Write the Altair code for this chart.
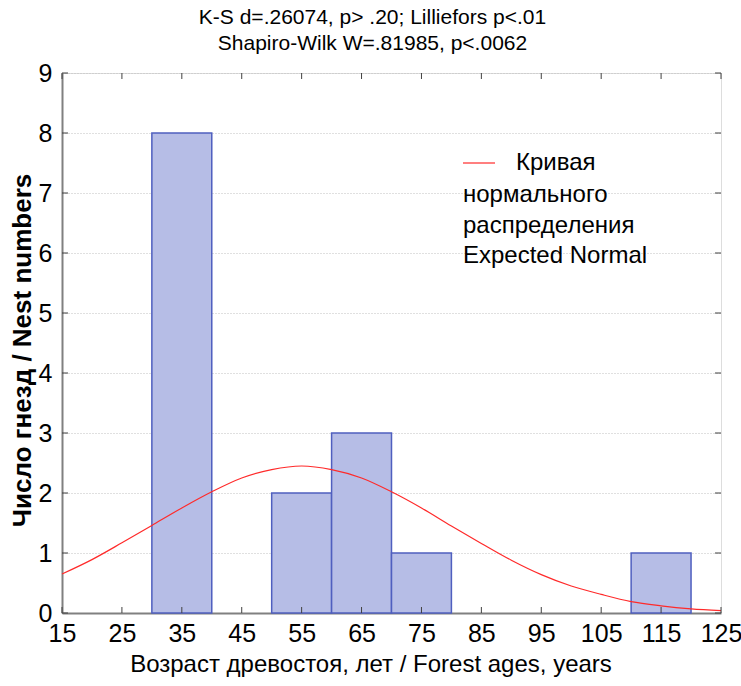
import altair as alt
import pandas as pd

# Histogram bins (age classes) and nest counts
bin_start = [30, 50, 60, 70, 110]
bin_end = [40, 60, 70, 80, 120]
nest_counts = [8, 2, 3, 1, 1]

# Expected normal curve, sampled every 5 years
curve_age = [15, 20, 25, 30, 35, 40, 45, 50, 55, 60, 65, 70, 75, 80,
             85, 90, 95, 100, 105, 110, 115, 120, 125]
curve_val = [0.65, 0.89, 1.17, 1.46, 1.75, 2.02, 2.25, 2.39, 2.45, 2.39,
             2.25, 2.02, 1.75, 1.45, 1.16, 0.88, 0.64, 0.45, 0.31, 0.19,
             0.12, 0.07, 0.04]

x_ticks = [15, 25, 35, 45, 55, 65, 75, 85, 95, 105, 115, 125]
y_ticks = [0, 1, 2, 3, 4, 5, 6, 7, 8, 9]

title_lines = ["K-S d=.26074, p> .20; Lilliefors p<.01",
               "Shapiro-Wilk W=.81985, p<.0062"]
x_title = "Возраст древостоя, лет / Forest ages, years"
y_title = "Число гнезд / Nest numbers"
legend_first = "Кривая"
legend_rest = ["нормального", "распределения", "Expected Normal"]

W, H = 659, 540
FONT = "Liberation Sans"

bars_df = pd.DataFrame({"start": bin_start, "end": bin_end, "n": nest_counts})
curve_df = pd.DataFrame({"age": curve_age, "val": curve_val})
xt_df = pd.DataFrame({"t": x_ticks})
yt_df = pd.DataFrame({"t": y_ticks})

x_scale = alt.Scale(domain=[15, 125], nice=False, zero=False)
y_scale = alt.Scale(domain=[0, 9], nice=False)

x_axis = alt.Axis(values=x_ticks, ticks=False, grid=False, labelOverlap=False,
                  labelFlush=False, domainColor="#808080", domainWidth=2,
                  labelFontSize=25, labelPadding=8, labelColor="#000",
                  titleFontSize=24, titleFontWeight="normal", titlePadding=6,
                  titleX=W / 2 - 21, titleColor="#000",
                  labelFont=FONT, titleFont=FONT)
y_axis = alt.Axis(values=y_ticks, format="d", ticks=False, grid=True,
                  labelOverlap=False, labelFlush=False,
                  gridColor="#c0c0c0", gridDash=[1, 2], gridWidth=1,
                  domainColor="#808080", domainWidth=2,
                  labelFontSize=25, labelPadding=10, labelColor="#000",
                  titleFontSize=26, titleFontWeight="bold", titlePadding=3,
                  titleY=H / 2 + 7, titleColor="#000",
                  labelFont=FONT, titleFont=FONT)

bars = alt.Chart(bars_df).mark_rect(
    fill="#b6bde6", stroke="#4f5fbf", strokeWidth=1.5
).encode(
    x=alt.X("start:Q", scale=x_scale, axis=x_axis, title=x_title),
    x2="end:Q",
    y=alt.Y("n:Q", scale=y_scale, axis=y_axis, title=y_title),
    y2=alt.datum(0),
)

curve = alt.Chart(curve_df).mark_line(
    color="#ff2a2a", strokeWidth=1.2, interpolate="monotone"
).encode(
    x=alt.X("age:Q", scale=x_scale),
    y=alt.Y("val:Q", scale=y_scale),
)

tick_style = dict(color="#404040", strokeWidth=1)
x_ticks_bottom = alt.Chart(xt_df).mark_rule(**tick_style).encode(
    x=alt.X("t:Q", scale=x_scale), y=alt.value(H), y2=alt.value(H - 6))
x_ticks_top = alt.Chart(xt_df).mark_rule(**tick_style).encode(
    x=alt.X("t:Q", scale=x_scale), y=alt.value(0), y2=alt.value(6))
y_ticks_left = alt.Chart(yt_df).mark_rule(**tick_style).encode(
    y=alt.Y("t:Q", scale=y_scale), x=alt.value(0), x2=alt.value(6))
y_ticks_right = alt.Chart(yt_df).mark_rule(**tick_style).encode(
    y=alt.Y("t:Q", scale=y_scale), x=alt.value(W), x2=alt.value(W - 6))

# Legend: red swatch with label, followed by continuation lines
legend_swatch = alt.Chart(pd.DataFrame({"k": [0]})).mark_rule(
    color="#ff2a2a", strokeWidth=1.2
).encode(x=alt.value(401), x2=alt.value(433), y=alt.value(90))
legend_head = alt.Chart(pd.DataFrame({"s": [legend_first]})).mark_text(
    align="left", baseline="middle", font=FONT, fontSize=24, color="#000"
).encode(x=alt.value(454), y=alt.value(90), text="s:N")
legend_tail = alt.Chart(pd.DataFrame({"s": ["\n".join(legend_rest)]})).mark_text(
    align="left", baseline="middle", font=FONT, fontSize=24, color="#000",
    lineBreak="\n", lineHeight=30.5
).encode(x=alt.value(401), y=alt.value(122), text="s:N")

chart = alt.layer(
    bars, curve, x_ticks_bottom, x_ticks_top, y_ticks_left, y_ticks_right,
    legend_swatch, legend_head, legend_tail
).properties(
    width=W, height=H,
    title=alt.TitleParams(title_lines, font=FONT, fontSize=21, fontWeight="normal",
                          color="#000", anchor="middle", dx=-19, offset=7,
                          lineHeight=26),
    autosize=alt.AutoSizeParams(type="none"),
    padding={"left": 62, "top": 73, "right": 20, "bottom": 73},
).configure_view(
    stroke="#808080", strokeWidth=1.5
).configure(background="white")

chart.save("out.html", embed_options={"renderer": "svg", "actions": False})
